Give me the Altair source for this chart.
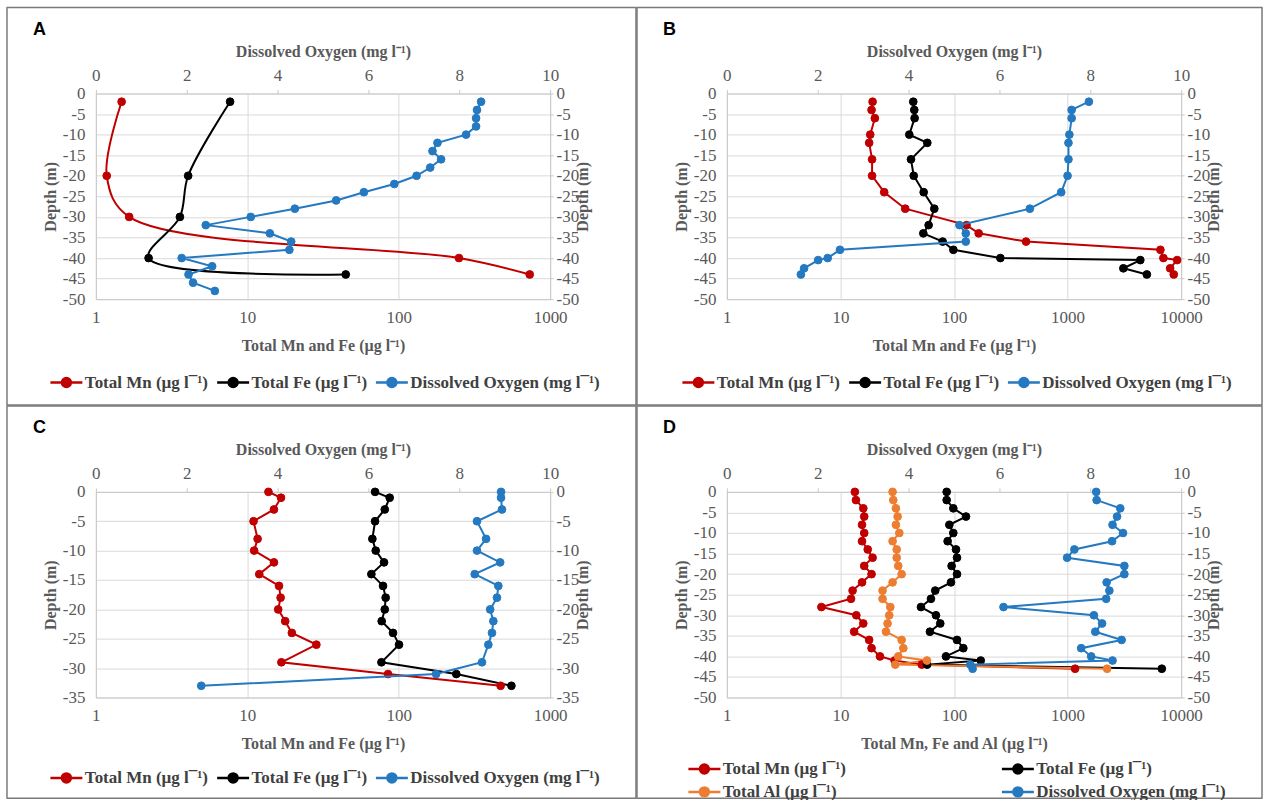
import altair as alt
import pandas as pd

MN = "Total Mn (µg l¯¹)"
FE = "Total Fe (µg l¯¹)"
AL = "Total Al (µg l¯¹)"
DO = "Dissolved Oxygen (mg l¯¹)"
COLORS = {MN: "#C00000", FE: "#000000", AL: "#ED7D31", DO: "#2479C1"}

# ---------------- Panel A ----------------
A_metal_depth = [-2, -20, -30, -40, -44]
A_mn = [1.48, 1.18, 1.66, 250, 733]
A_fe = [7.7, 4.07, 3.59, 2.23, 44.7]
A_do_depth = [-2, -4, -6, -8, -10, -12, -14, -16, -18, -20, -22, -24, -26, -28, -30,
              -32, -34, -36, -38, -40, -42, -44, -46, -48]
A_do = [8.48, 8.39, 8.37, 8.37, 8.15, 7.52, 7.41, 7.60, 7.36, 7.06, 6.57, 5.90, 5.29,
        4.38, 3.41, 2.42, 3.83, 4.30, 4.26, 1.89, 2.56, 2.04, 2.14, 2.62]

# ---------------- Panel B ----------------
B_depth = [-2, -4, -6, -10, -12, -16, -20, -24, -28, -32, -34, -36, -38, -40, -40.5, -42.5, -44]
B_mn = [19.2, 18.8, 20.1, 18.3, 17.9, 19.0, 19.0, 24.3, 37.2, 129, 165, 431, 6570, 6980, 9220, 8000, 8610]
B_fe = [43.8, 44.7, 45.0, 40.4, 58.2, 41.8, 44.2, 54.1, 67.1, 59.8, 53.7, 79.5, 98.7, 256, 4370, 3100, 4990]
B_do = [7.97, 7.59, 7.59, 7.54, 7.52, 7.52, 7.50, 7.36, 6.67, 5.12, 5.26, 5.26, 2.49, 2.22, 2.01, 1.70, 1.63]

# ---------------- Panel C ----------------
C_depth = [0, -1, -3, -5, -8, -10, -12, -14, -16, -18, -20, -22, -24, -26, -29, -31, -33]
C_mn = [13.8, 16.7, 15.0, 11.0, 11.7, 11.1, 15.0, 12.0, 16.2, 16.6, 16.0, 17.8, 19.7, 28.6, 16.8, 85, 471]
C_fe = [69.8, 87.2, 80.9, 69.8, 67.0, 70.5, 80.0, 66.0, 78.8, 82.0, 80.9, 77.2, 91.7, 100.5, 76.9, 240, 555]
C_do = [8.92, 8.92, 8.94, 8.39, 8.59, 8.39, 8.90, 8.34, 8.86, 8.83, 8.68, 8.75, 8.72, 8.64, 8.50, 7.49, 2.32]

# ---------------- Panel D ----------------
D_depth = [0, -2, -4, -6, -8, -10, -12, -14, -16, -18, -20, -22, -24, -26, -28, -30,
           -32, -34, -36, -38, -40, -41, -42, -43]
D_mn = [13.4, 13.7, 15.9, 16.2, 15.5, 16.2, 15.5, 17.4, 19.2, 16.2, 18.8, 15.5, 12.8, 12.4,
        6.8, 13.8, 15.9, 13.2, 17.9, 18.8, 22.3, 30, 52, 1165]
D_fe = [86.2, 86.2, 98.6, 127.6, 91.0, 98.6, 87.9, 104.2, 106.3, 95.3, 106.3, 94.1, 68.4, 62.7,
        51.2, 69.4, 75.7, 61.4, 106.3, 120.8, 85.0, 172, 58, 6760]
D_al = [28.8, 29.2, 30.8, 31.9, 30.8, 33.0, 28.8, 31.3, 31.3, 32.3, 34.6, 28.8, 23.5, 23.5,
        27.5, 26.9, 26.0, 25.2, 34.6, 35.8, 32.3, 57.8, 30.4, 2230]
D_do = [8.13, 8.14, 8.66, 8.59, 8.49, 8.72, 8.48, 7.65, 7.49, 8.75, 8.75, 8.36, 8.42, 8.35,
        6.09, 8.08, 8.26, 8.11, 8.69, 7.80, 8.02, 8.49, 5.36, 5.41]

# ---------------- ticks & labels ----------------
X_TICKS_3 = [1, 10, 100, 1000]
X_TICKS_4 = [1, 10, 100, 1000, 10000]
DO_TICKS = [0, 2, 4, 6, 8, 10]
DEPTH_TICKS_50 = [0, -5, -10, -15, -20, -25, -30, -35, -40, -45, -50]
DEPTH_TICKS_35 = [0, -5, -10, -15, -20, -25, -30, -35]
DO_TITLE = "Dissolved Oxygen (mg l⁻¹)"
X_TITLE_MF = "Total Mn and Fe (µg l⁻¹)"
X_TITLE_MFA = "Total Mn, Fe and Al (µg l⁻¹)"

SERIF = "Liberation Serif"
GRAY = "#595959"
LEG_PATH = "M-2,0L2,0M0.56,0A0.56,0.56,0,1,1,-0.56,0A0.56,0.56,0,1,1,0.56,0Z"
W, H = 455, 206


def legend_def(lx, ly, cols, cp):
    return alt.Legend(title=None, orient="none", legendX=lx, legendY=ly,
                      direction="horizontal", columns=cols, columnPadding=cp, rowPadding=4,
                      symbolType=LEG_PATH, symbolSize=256, symbolStrokeWidth=2.5,
                      symbolOpacity=1, labelFont=SERIF, labelFontSize=17,
                      labelFontWeight="bold", labelColor="#404040", labelOffset=9,
                      labelLimit=400)


def panel(letter, metals, do_depth, do_vals, xticks, yticks, xtitle, leg, smooth, frame):
    names = [m[0] for m in metals] + [DO]
    rng = [COLORS[n] for n in names]
    mrows = []
    for name, ds, vs in metals:
        for i, (d, v) in enumerate(zip(ds, vs)):
            mrows.append({"series": name, "depth": d, "value": v, "idx": i})
    mdf = pd.DataFrame(mrows)
    ddf = pd.DataFrame({"series": DO, "depth": do_depth, "value": do_vals,
                        "idx": list(range(len(do_depth)))})
    ymin = yticks[-1]
    fill = alt.Fill("series:N", scale=alt.Scale(domain=names, range=rng), legend=leg)
    stroke = alt.Stroke("series:N", scale=alt.Scale(domain=names, range=rng), legend=leg)
    yscale = alt.Scale(domain=[ymin, 0], nice=False, zero=False)
    y_left = alt.Y("depth:Q", scale=yscale,
                   axis=alt.Axis(orient="left", values=yticks, title="Depth (m)", grid=True,
                                 ticks=False, labelPadding=11, titlePadding=4, labelFlush=False,
                                 labelExpr="'' + datum.value"))
    y_right = alt.Y("depth:Q", scale=yscale,
                    axis=alt.Axis(orient="right", values=yticks, title="Depth (m)", grid=False,
                                  ticks=True, tickSize=3, labelPadding=3, titlePadding=12,
                                  titleAngle=270, labelFlush=False,
                                  labelExpr="'' + datum.value"))
    x_log = alt.X("value:Q", scale=alt.Scale(type="log", domain=[1, xticks[-1]], nice=False),
                  axis=alt.Axis(orient="bottom", values=xticks, format="d", title=xtitle,
                                grid=True, ticks=False, labelPadding=10, titlePadding=12,
                                labelFlush=False))
    x_do = alt.X("value:Q", scale=alt.Scale(domain=[0, 10], nice=False, zero=False),
                 axis=alt.Axis(orient="top", values=DO_TICKS, title=DO_TITLE, grid=False,
                               ticks=True, tickSize=4, labelPadding=5, titlePadding=7,
                               labelFlush=False))
    order = alt.Order("idx:Q")
    line_kw = dict(strokeWidth=2)
    if smooth:
        line_kw["interpolate"] = "catmull-rom"
    ml = alt.Chart(mdf).mark_line(**line_kw).encode(x=x_log, y=y_left, stroke=stroke, order=order)
    mp = alt.Chart(mdf).mark_point(filled=True, size=60, opacity=1, strokeWidth=1).encode(
        x=x_log, y=y_left, fill=fill, stroke=stroke)
    dl = alt.Chart(ddf).mark_line(strokeWidth=2).encode(x=x_do, y=y_right, stroke=stroke, order=order)
    dp = alt.Chart(ddf).mark_point(filled=True, size=60, opacity=1, strokeWidth=1).encode(
        x=x_do, y=y_right, fill=fill, stroke=stroke)
    fx1, fx2, fy1, fy2 = frame
    box = alt.Chart(pd.DataFrame({"panel": [letter]})).mark_rect(
        filled=False, stroke="#7a7a7a", strokeWidth=1.5, strokeJoin="round").encode(
        x=alt.value(fx1), x2=alt.value(fx2), y=alt.value(fy1), y2=alt.value(fy2))
    lab = alt.Chart(pd.DataFrame({"label": [letter]})).mark_text(
        align="left", baseline="middle", font="Liberation Sans", fontSize=18,
        fontWeight="bold", color="black").encode(
        x=alt.value(fx1 + 26), y=alt.value(-64), text="label:N")
    return alt.layer(alt.layer(ml, mp), alt.layer(dl, dp), box, lab).resolve_scale(
        x="independent", y="independent").properties(width=W, height=H)


pA = panel("A", [(MN, A_metal_depth, A_mn), (FE, A_metal_depth, A_fe)], A_do_depth, A_do,
           X_TICKS_3, DEPTH_TICKS_50, X_TITLE_MF, legend_def(-39, 280, 3, 3), True,
           (-89, 541, -86, 312))
pB = panel("B", [(MN, B_depth, B_mn), (FE, B_depth, B_fe)], B_depth, B_do,
           X_TICKS_4, DEPTH_TICKS_50, X_TITLE_MF, legend_def(-38, 280, 3, 3), False,
           (-90, 536, -86, 312))
pC = panel("C", [(MN, C_depth, C_mn), (FE, C_depth, C_fe)], C_depth, C_do,
           X_TICKS_3, DEPTH_TICKS_35, X_TITLE_MF, legend_def(-39, 277, 3, 3), False,
           (-89, 541, -86, 307))
pD = panel("D", [(MN, D_depth, D_mn), (FE, D_depth, D_fe), (AL, D_depth, D_al)], D_depth, D_do,
           X_TICKS_4, DEPTH_TICKS_50, X_TITLE_MFA, legend_def(-32, 268, 2, 150), False,
           (-90, 536, -86, 307))

res = dict(x="independent", y="independent", fill="independent", stroke="independent")
top = alt.hconcat(pA, pB, spacing=-3, bounds="full").resolve_scale(**res)
bottom = alt.hconcat(pC, pD, spacing=-3, bounds="full").resolve_scale(**res)
chart = alt.vconcat(top, bottom, spacing=-3, bounds="full").resolve_scale(**res).properties(
    padding={"left": 5, "top": 5, "right": 0, "bottom": 0}, background="white"
).configure_view(stroke="transparent").configure_axis(
    labelFont=SERIF, labelFontSize=17, labelColor=GRAY, titleFont=SERIF, titleFontSize=16,
    titleFontWeight="bold", titleColor=GRAY, domainColor="#c8c8c8", gridColor="#d9d9d9",
    tickColor="#c8c8c8")

chart.save("out.html", embed_options={"renderer": "svg", "actions": False})
